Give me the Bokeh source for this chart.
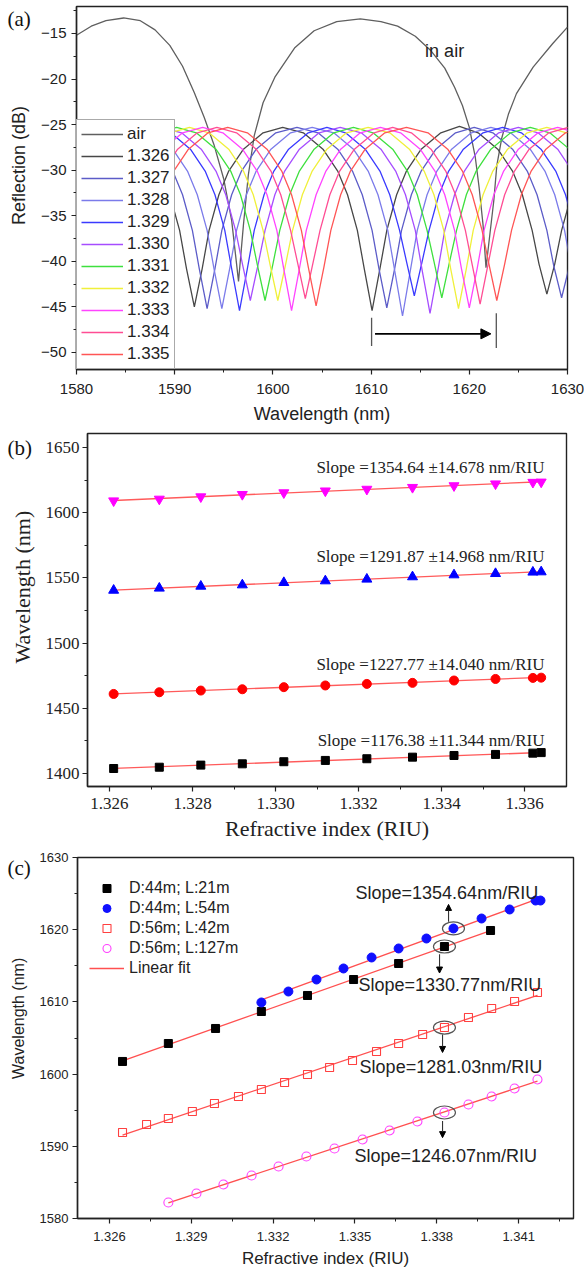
import numpy as np
from math import pi
from bokeh.plotting import figure
from bokeh.layouts import column, row
from bokeh.models import (Range1d, FixedTicker, Legend, LegendItem, Label, Arrow,
                          NormalHead, NumeralTickFormatter)
from bokeh.embed import file_html
from bokeh.resources import INLINE

SANS = "Liberation Sans"
SERIF = "Liberation Serif"

# ---------------- Panel (a): reflection spectra ----------------
a_xticks = [1580, 1590, 1600, 1610, 1620, 1630]
a_xminor = [1585, 1595, 1605, 1615, 1625]
a_yticks = [-50, -45, -40, -35, -30, -25, -20, -15]
a_yminor = [-47.5, -42.5, -37.5, -32.5, -27.5, -22.5, -17.5, -12.5]

wl_air = [1580.0, 1581.5, 1583.0, 1584.8, 1586.5, 1588.0, 1589.5, 1590.8, 1592.0, 1593.0,
          1594.0, 1595.0, 1595.8, 1596.5, 1597.0, 1597.5, 1598.1, 1599.0, 1600.2, 1602.2,
          1604.2, 1606.5, 1608.9, 1611.0, 1612.7, 1614.5, 1616.1, 1617.5, 1618.5, 1619.3,
          1620.0, 1620.6, 1621.0, 1621.4, 1621.7, 1622.1, 1622.5, 1622.8, 1623.3, 1624.0,
          1624.8, 1626.5, 1628.5, 1630.0]
db_air = [-15.2, -14.2, -13.6, -13.3, -13.6, -14.6, -16.3, -18.6, -21.5, -24.2,
          -27.2, -31.0, -35.5, -42.2, -36.0, -30.5, -26.2, -22.6, -19.8, -16.6,
          -14.7, -13.7, -13.4, -13.7, -14.2, -15.3, -16.9, -18.8, -20.9, -22.9,
          -25.3, -28.5, -31.9, -36.0, -40.7, -37.0, -33.3, -29.5, -26.5, -23.8,
          -21.6, -18.7, -16.1, -14.3]

wl_1326 = [1587.0, 1588.5, 1589.5, 1590.5, 1591.2, 1592.0, 1592.8, 1593.5, 1594.5, 1595.5,
           1597.0, 1599.0, 1601.0, 1603.1, 1605.1, 1606.6, 1607.6, 1608.6, 1609.3, 1610.1,
           1610.9, 1611.6, 1612.6, 1613.6, 1615.1, 1617.1, 1619.0, 1620.9, 1622.9, 1624.4,
           1625.4, 1626.4, 1627.1, 1627.9, 1628.7, 1629.4, 1630.4]
db_1326 = [-27.7, -30.1, -32.7, -36.6, -40.8, -45.0, -40.8, -36.6, -32.7, -30.1,
           -27.7, -25.9, -25.3, -25.9, -27.7, -30.1, -32.7, -36.6, -40.8, -45.4,
           -40.8, -36.6, -32.7, -30.1, -27.7, -25.9, -25.2, -25.9, -27.7, -30.1,
           -32.7, -36.6, -40.3, -43.6, -40.3, -36.6, -32.7]

wl_1327 = [1586.3, 1588.3, 1589.8, 1590.8, 1591.8, 1592.5, 1593.3, 1594.1, 1594.8, 1595.8,
           1596.8, 1598.3, 1600.3, 1602.45, 1604.6, 1606.6, 1608.1, 1609.1, 1610.1, 1610.8,
           1611.6, 1612.4, 1613.1, 1614.1, 1615.1, 1616.6, 1618.6, 1620.5, 1622.4, 1624.4,
           1625.9, 1626.9, 1627.9, 1628.6, 1629.4, 1630.2]
db_1327 = [-25.9, -27.7, -30.1, -32.7, -36.6, -40.8, -45.2, -40.8, -36.6, -32.7,
           -30.1, -27.7, -25.9, -25.3, -25.9, -27.7, -30.1, -32.7, -36.6, -40.8,
           -45.1, -40.8, -36.6, -32.7, -30.1, -27.7, -25.9, -25.3, -25.9, -27.7,
           -30.1, -32.7, -36.6, -40.5, -44.0, -40.5]

wl_1328 = [1587.8, 1589.8, 1591.3, 1592.3, 1593.3, 1594.0, 1594.8, 1595.6, 1596.3, 1597.3,
           1598.3, 1599.8, 1601.8, 1604.0, 1606.2, 1608.2, 1609.7, 1610.7, 1611.7, 1612.4,
           1613.2, 1614.0, 1614.7, 1615.7, 1616.7, 1618.2, 1620.2, 1622.2, 1624.2, 1626.2,
           1627.7, 1628.7, 1629.7, 1630.4]
db_1328 = [-25.9, -27.7, -30.1, -32.7, -36.6, -40.8, -45.2, -40.8, -36.6, -32.7,
           -30.1, -27.7, -25.9, -25.3, -25.9, -27.7, -30.1, -32.7, -36.6, -41.0,
           -46.0, -41.0, -36.6, -32.7, -30.1, -27.7, -25.9, -25.3, -25.9, -27.7,
           -30.1, -32.7, -36.6, -40.8]

wl_1329 = [1587.5, 1589.6, 1591.6, 1593.1, 1594.1, 1595.1, 1595.8, 1596.6, 1597.4, 1598.1,
           1599.1, 1600.1, 1601.6, 1603.6, 1605.5, 1607.4, 1609.4, 1610.9, 1611.9, 1612.9,
           1613.6, 1614.4, 1615.2, 1615.9, 1616.9, 1617.9, 1619.4, 1621.4, 1623.4, 1625.3,
           1627.3, 1628.8, 1629.8, 1630.8]
db_1329 = [-25.3, -25.9, -27.7, -30.1, -32.7, -36.6, -40.8, -45.4, -40.8, -36.6,
           -32.7, -30.1, -27.7, -25.9, -25.3, -25.9, -27.7, -30.1, -32.7, -36.6,
           -40.0, -43.8, -40.0, -36.6, -32.7, -30.1, -27.7, -25.9, -25.3, -25.9,
           -27.7, -30.1, -32.7, -36.6]

wl_1330 = [1588.6, 1590.7, 1592.7, 1594.2, 1595.2, 1596.2, 1596.9, 1597.7, 1598.5, 1599.2,
           1600.2, 1601.2, 1602.7, 1604.7, 1606.85, 1609.0, 1611.0, 1612.5, 1613.5, 1614.5,
           1615.2, 1616.0, 1616.8, 1617.5, 1618.5, 1619.5, 1621.0, 1623.0, 1625.0, 1627.0,
           1629.0, 1630.5]
db_1330 = [-25.3, -25.9, -27.7, -30.1, -32.7, -36.6, -40.3, -44.3, -40.3, -36.6,
           -32.7, -30.1, -27.7, -25.9, -25.3, -25.9, -27.7, -30.1, -32.7, -36.6,
           -41.0, -45.7, -41.0, -36.6, -32.7, -30.1, -27.7, -25.9, -25.3, -25.9,
           -27.7, -30.1]

wl_1331 = [1588.2, 1590.2, 1592.2, 1594.2, 1595.7, 1596.7, 1597.7, 1598.4, 1599.2, 1600.0,
           1600.7, 1601.7, 1602.7, 1604.2, 1606.2, 1608.2, 1610.2, 1612.2, 1613.7, 1614.7,
           1615.7, 1616.4, 1617.2, 1618.0, 1618.7, 1619.7, 1620.7, 1622.2, 1624.2, 1626.2,
           1628.2, 1630.2]
db_1331 = [-25.9, -25.3, -25.9, -27.7, -30.1, -32.7, -36.6, -40.3, -44.3, -40.3,
           -36.6, -32.7, -30.1, -27.7, -25.9, -25.3, -25.9, -27.7, -30.1, -32.7,
           -36.6, -40.0, -44.0, -40.0, -36.6, -32.7, -30.1, -27.7, -25.9, -25.3,
           -25.9, -27.7]

wl_1332 = [1587.4, 1589.5, 1591.5, 1593.5, 1595.5, 1597.0, 1598.0, 1599.0, 1599.7, 1600.5,
           1601.3, 1602.0, 1603.0, 1604.0, 1605.5, 1607.5, 1609.7, 1611.9, 1613.9, 1615.4,
           1616.4, 1617.4, 1618.1, 1618.9, 1619.7, 1620.4, 1621.4, 1622.4, 1623.9, 1625.9,
           1627.9, 1629.9]
db_1332 = [-27.7, -25.9, -25.3, -25.9, -27.7, -30.1, -32.7, -36.6, -40.3, -44.3,
           -40.3, -36.6, -32.7, -30.1, -27.7, -25.9, -25.3, -25.9, -27.7, -30.1,
           -32.7, -36.6, -40.8, -45.2, -40.8, -36.6, -32.7, -30.1, -27.7, -25.9,
           -25.3, -25.9]

wl_1333 = [1587.3, 1588.8, 1590.8, 1592.85, 1594.9, 1596.9, 1598.4, 1599.4, 1600.4, 1601.1,
           1601.9, 1602.7, 1603.4, 1604.4, 1605.4, 1606.9, 1608.9, 1610.95, 1613.0, 1615.0,
           1616.5, 1617.5, 1618.5, 1619.2, 1620.0, 1620.8, 1621.5, 1622.5, 1623.5, 1625.0,
           1627.0, 1629.0, 1631.0]
db_1333 = [-30.1, -27.7, -25.9, -25.3, -25.9, -27.7, -30.1, -32.7, -36.6, -40.8,
           -45.4, -40.8, -36.6, -32.7, -30.1, -27.7, -25.9, -25.3, -25.9, -27.7,
           -30.1, -32.7, -36.6, -40.8, -45.1, -40.8, -36.6, -32.7, -30.1, -27.7,
           -25.9, -25.3, -25.9]

wl_1334 = [1587.8, 1588.8, 1590.3, 1592.3, 1594.3, 1596.3, 1598.3, 1599.8, 1600.8, 1601.8,
           1602.5, 1603.3, 1604.1, 1604.8, 1605.8, 1606.8, 1608.3, 1610.3, 1612.2, 1614.1,
           1616.1, 1617.6, 1618.6, 1619.6, 1620.3, 1621.1, 1621.9, 1622.6, 1623.6, 1624.6,
           1626.1, 1628.1, 1630.1]
db_1334 = [-32.7, -30.1, -27.7, -25.9, -25.3, -25.9, -27.7, -30.1, -32.7, -36.6,
           -40.1, -44.1, -40.1, -36.6, -32.7, -30.1, -27.7, -25.9, -25.3, -25.9,
           -27.7, -30.1, -32.7, -36.6, -40.4, -44.7, -40.4, -36.6, -32.7, -30.1,
           -27.7, -25.9, -25.3]

wl_1335 = [1587.9, 1588.9, 1589.9, 1591.4, 1593.4, 1595.4, 1597.4, 1599.4, 1600.9, 1601.9,
           1602.9, 1603.6, 1604.4, 1605.2, 1605.9, 1606.9, 1607.9, 1609.4, 1611.4, 1613.6,
           1615.8, 1617.8, 1619.3, 1620.3, 1621.3, 1622.0, 1622.8, 1623.6, 1624.3, 1625.3,
           1626.3, 1627.8, 1629.8, 1631.8]
db_1335 = [-36.6, -32.7, -30.1, -27.7, -25.9, -25.3, -25.9, -27.7, -30.1, -32.7,
           -36.6, -40.6, -44.9, -40.6, -36.6, -32.7, -30.1, -27.7, -25.9, -25.3,
           -25.9, -27.7, -30.1, -32.7, -36.6, -40.3, -44.3, -40.3, -36.6, -32.7,
           -30.1, -27.7, -25.9, -25.3]

spec_labels = ["air", "1.326", "1.327", "1.328", "1.329", "1.330",
               "1.331", "1.332", "1.333", "1.334", "1.335"]
spec_colors = ["#5f5f5f", "#474747", "#5c5cc8", "#7b7bea", "#3a3aff", "#a64dff",
               "#3ee03e", "#f0f03a", "#ff44ff", "#ff4d94", "#ff5555"]

# ---------------- Panel (b) ----------------
b_xticks = [1.326, 1.328, 1.330, 1.332, 1.334, 1.336]
b_xminor = [1.327, 1.329, 1.331, 1.333, 1.335]
b_yticks = [1400, 1450, 1500, 1550, 1600, 1650]
b_yminor = [1425, 1475, 1525, 1575, 1625]
ri_b = [1.3261, 1.3272, 1.3282, 1.3292, 1.3302, 1.3312, 1.3322, 1.3333, 1.3343, 1.3353, 1.3362, 1.3364]
wl_b_black = [1403.8, 1404.8, 1406.4, 1407.4, 1409.0, 1410.0, 1411.3, 1412.5, 1413.8, 1414.6, 1415.6, 1416.0]
wl_b_red = [1461.0, 1462.3, 1463.6, 1464.6, 1466.2, 1467.5, 1468.7, 1469.5, 1471.3, 1472.5, 1473.3, 1473.5]
wl_b_blue = [1540.5, 1542.1, 1543.6, 1544.6, 1546.4, 1547.7, 1549.0, 1550.8, 1552.3, 1553.3, 1554.4, 1554.6]
wl_b_magenta = [1609.2, 1610.5, 1612.3, 1614.1, 1615.4, 1616.8, 1618.1, 1619.5, 1620.8, 1622.2, 1623.4, 1623.6]
b_slopes = ["Slope =1176.38 \u00b111.344 nm/RIU", "Slope =1227.77 \u00b114.040 nm/RIU",
            "Slope =1291.87 \u00b114.968 nm/RIU", "Slope =1354.64 \u00b114.678 nm/RIU"]

# ---------------- Panel (c) ----------------
c_xticks = [1.326, 1.329, 1.332, 1.335, 1.338, 1.341]
c_xminor = [1.3275, 1.3305, 1.3335, 1.3365, 1.3395, 1.3425]
c_yticks = [1580, 1590, 1600, 1610, 1620, 1630]
c_yminor = [1585, 1595, 1605, 1615, 1625]
ri_c_black = [1.32648, 1.32816, 1.32989, 1.33157, 1.33326, 1.33495, 1.33660, 1.33828, 1.33997]
wl_c_black = [1601.75, 1604.24, 1606.32, 1608.67, 1610.89, 1613.10, 1615.32, 1617.67, 1619.89]
ri_c_blue = [1.33157, 1.33256, 1.33359, 1.33458, 1.33561, 1.33660, 1.33762, 1.33861,
             1.33964, 1.34067, 1.34162, 1.34180]
wl_c_blue = [1609.92, 1611.44, 1613.10, 1614.63, 1616.15, 1617.40, 1618.78, 1620.17,
             1621.55, 1622.80, 1624.04, 1624.04]
ri_c_red = [1.32648, 1.32736, 1.32816, 1.32904, 1.32985, 1.33073, 1.33157, 1.33242, 1.33326,
            1.33407, 1.33491, 1.33579, 1.33660, 1.33748, 1.33828, 1.33916, 1.34001, 1.34085, 1.34169]
wl_c_red = [1591.91, 1593.02, 1593.85, 1594.81, 1595.93, 1596.90, 1597.87, 1598.84, 1599.94,
            1600.91, 1601.88, 1603.13, 1604.24, 1605.48, 1606.45, 1607.84, 1609.09, 1610.06, 1611.30]
ri_c_mag = [1.32816, 1.32919, 1.33018, 1.33121, 1.33220, 1.33322, 1.33425, 1.33528,
            1.33627, 1.33729, 1.33828, 1.33916, 1.34001, 1.34085, 1.34169]
wl_c_mag = [1582.22, 1583.46, 1584.71, 1585.96, 1587.20, 1588.59, 1589.70, 1590.94,
            1592.19, 1593.43, 1594.68, 1595.79, 1596.90, 1598.01, 1599.25]
c_legend = ["D:44m; L:21m", "D:44m; L:54m", "D:56m; L:42m", "D:56m; L:127m", "Linear fit"]
c_slopes = ["Slope=1354.64nm/RIU", "Slope=1330.77nm/RIU", "Slope=1281.03nm/RIU", "Slope=1246.07nm/RIU"]


def base_fig(width, height, xr, yr, ml, mr, mt, mb):
    p = figure(width=width, height=height, x_range=Range1d(*xr), y_range=Range1d(*yr),
               output_backend="svg", toolbar_location=None,
               min_border_left=ml, min_border_right=mr, min_border_top=mt, min_border_bottom=mb)
    p.xgrid.visible = False
    p.ygrid.visible = False
    p.outline_line_color = "#222222"
    p.outline_line_width = 1.4
    return p


def side_fig(width, height, letter, letter_y, ylabel, ylab_x, ylab_y, ylab_font, ylab_size):
    # narrow strip left of each panel holding the panel letter and the y-axis title
    q = figure(width=width, height=height, x_range=Range1d(0, width), y_range=Range1d(0, height),
               x_axis_type=None, y_axis_type=None, output_backend="svg", toolbar_location=None,
               min_border_left=0, min_border_right=0, min_border_top=0, min_border_bottom=0)
    q.outline_line_color = None
    q.add_layout(Label(x=7, y=letter_y, text=letter, text_font=SERIF, text_font_size="21px",
                       text_baseline="middle", text_color="#111111"))
    q.add_layout(Label(x=ylab_x, y=ylab_y, text=ylabel, angle=pi / 2, text_align="center",
                       text_baseline="middle", text_font=ylab_font, text_font_size=ylab_size,
                       text_color="#222222"))
    return q


def style_axes(p, font, tick_size, label_size, xt, xm, yt, ym, x_standoff, y_standoff, x_lab_standoff):
    for ax in (p.xaxis[0], p.yaxis[0]):
        ax.axis_line_color = "#222222"
        ax.axis_line_width = 1.4
        ax.major_tick_line_color = "#222222"
        ax.minor_tick_line_color = "#222222"
        ax.major_tick_line_width = 1.2
        ax.minor_tick_line_width = 1.0
        ax.major_tick_out = 5
        ax.major_tick_in = 0
        ax.minor_tick_out = 3
        ax.minor_tick_in = 0
        ax.major_label_text_font = font
        ax.major_label_text_font_size = tick_size
        ax.major_label_text_color = "#222222"
        ax.axis_label_text_font = font
        ax.axis_label_text_font_size = label_size
        ax.axis_label_text_font_style = "normal"
        ax.axis_label_text_color = "#222222"
    p.xaxis[0].ticker = FixedTicker(ticks=xt, minor_ticks=xm)
    p.yaxis[0].ticker = FixedTicker(ticks=yt, minor_ticks=ym)
    p.xaxis[0].major_label_standoff = x_standoff
    p.yaxis[0].major_label_standoff = y_standoff
    p.xaxis[0].axis_label_standoff = x_lab_standoff


# ================= Panel (a) =================
HA = 428
s1 = side_fig(36, HA, "(a)", HA - 15, "Reflection (dB)", 18, HA - 187.5, SANS, "18px")
p1 = base_fig(548, HA, (1580, 1630), (-51.87, -12.04), 40, 17, 6, 59)
style_axes(p1, SANS, "15px", "18px", a_xticks, a_xminor, a_yticks, a_yminor, 9, 5, 7)
p1.xaxis.axis_label = "Wavelength (nm)"

spec_wl = [wl_air, wl_1326, wl_1327, wl_1328, wl_1329, wl_1330, wl_1331, wl_1332, wl_1333, wl_1334, wl_1335]
spec_db = [db_air, db_1326, db_1327, db_1328, db_1329, db_1330, db_1331, db_1332, db_1333, db_1334, db_1335]
items_a = []
for lab, col, wl, db in zip(spec_labels, spec_colors, spec_wl, spec_db):
    r = p1.line(wl, db, line_color=col, line_width=1.3)
    items_a.append(LegendItem(label=lab, renderers=[r]))

leg_a = Legend(items=items_a, location=(0, 0), padding=4, spacing=2, margin=0,
               label_height=20, glyph_height=20, glyph_width=42, label_standoff=4,
               label_text_font=SANS, label_text_font_size="17px", label_text_color="#222222",
               border_line_color="#555555", border_line_width=1.2,
               background_fill_color="white", background_fill_alpha=1.0)
p1.add_layout(leg_a)

p1.segment(x0=[1610.05, 1622.75], y0=[-46.2, -45.7], x1=[1610.05, 1622.75], y1=[-49.3, -49.5],
           line_color="#555555", line_width=1.3)
p1.add_layout(Arrow(end=NormalHead(size=10, fill_color="black", line_color="black"),
                    x_start=1610.4, y_start=-47.96, x_end=1622.2, y_end=-47.96,
                    line_color="black", line_width=1.6))
p1.add_layout(Label(x=1615.5, y=-16.9, text="in air", text_font=SANS, text_font_size="18px",
                    text_baseline="middle", text_color="#222222"))

# ================= Panel (b) =================
HB = 417
s2 = side_fig(38, HB, "(b)", HB - 17, "Wavelength (nm)", 22, HB - 181.5, SERIF, "22px")
p2 = base_fig(546, HB, (1.32547, 1.33701), (1390.0, 1660.8), 49, 18, 5, 59)
style_axes(p2, SERIF, "17px", "22px", b_xticks, b_xminor, b_yticks, b_yminor, 6, 3, 4)
p2.xaxis.axis_label = "Refractive index (RIU)"
p2.xaxis[0].formatter = NumeralTickFormatter(format="0.000")

b_series = [(wl_b_black, "square", "black", 8), (wl_b_red, "circle", "#ff0000", 9),
            (wl_b_blue, "triangle", "#0000ff", 10), (wl_b_magenta, "inverted_triangle", "#ff00ff", 10)]
for wl, mk, col, sz in b_series:
    k = np.polyfit(ri_b, wl, 1)
    xs = [ri_b[0], ri_b[-1]]
    p2.line(xs, list(np.polyval(k, xs)), line_color="#ff5a5a", line_width=1.3)
for wl, mk, col, sz in b_series:
    p2.scatter(ri_b, wl, marker=mk, size=sz, fill_color=col, line_color=col)

b_text_y = [1425.4, 1483.8, 1566.2, 1634.6]
for txt, ty in zip(b_slopes, b_text_y):
    p2.add_layout(Label(x=1.33648, y=ty, text=txt, text_align="right", text_baseline="middle",
                        text_font=SERIF, text_font_size="17px", text_color="#222222"))

# ================= Panel (c) =================
HC = 432
s3 = side_fig(34, HC, "(c)", HC - 13, "Wavelength (nm)", 18, HC - 192.5, SANS, "16px")
p3 = base_fig(550, HC, (1.32483, 1.34301), (1580, 1630), 43, 11, 12, 59)
style_axes(p3, SANS, "13px", "17px", c_xticks, c_xminor, c_yticks, c_yminor, 8, 4, 5)
p3.xaxis.axis_label = "Refractive index (RIU)"
p3.xaxis[0].formatter = NumeralTickFormatter(format="0.000")

fit_r = None
for xs_d, ys_d in [(ri_c_black, wl_c_black), (ri_c_blue, wl_c_blue), (ri_c_red, wl_c_red), (ri_c_mag, wl_c_mag)]:
    k = np.polyfit(xs_d, ys_d, 1)
    xs = [xs_d[0], xs_d[-1]]
    fit_r = p3.line(xs, list(np.polyval(k, xs)), line_color="#ff5050", line_width=1.3)

r_black = p3.scatter(ri_c_black, wl_c_black, marker="square", size=8, fill_color="black", line_color="black")
r_blue = p3.scatter(ri_c_blue, wl_c_blue, marker="circle", size=9, fill_color="#1010ff", line_color="#1010ff")
r_red = p3.scatter(ri_c_red, wl_c_red, marker="square", size=8, fill_color=None, line_color="#ff4040", line_width=1.1)
r_mag = p3.scatter(ri_c_mag, wl_c_mag, marker="circle", size=9, fill_color=None, line_color="#ff40ff", line_width=1.1)

leg_c = Legend(items=[LegendItem(label=c_legend[0], renderers=[r_black]),
                      LegendItem(label=c_legend[1], renderers=[r_blue]),
                      LegendItem(label=c_legend[2], renderers=[r_red]),
                      LegendItem(label=c_legend[3], renderers=[r_mag]),
                      LegendItem(label=c_legend[4], renderers=[fit_r])],
               location=(12, 240), padding=4, spacing=0, margin=0,
               label_height=20, glyph_height=20, glyph_width=35, label_standoff=5,
               label_text_font=SANS, label_text_font_size="16px", label_text_color="#222222",
               border_line_color=None, background_fill_alpha=0)
p3.add_layout(leg_c)

ell_x = [ri_c_blue[7], ri_c_black[7], ri_c_red[14], ri_c_mag[10]]
ell_y = [wl_c_blue[7], wl_c_black[7], wl_c_red[14], wl_c_mag[10]]
p3.ellipse(x=ell_x, y=ell_y, width=22, height=13, width_units="screen", height_units="screen",
           fill_alpha=0, line_color="#555555", line_width=1.2)

arrows_c = [(1.33843, 1621.1, 1623.5), (1.33810, 1616.6, 1614.0),
            (1.33821, 1605.5, 1603.0), (1.33821, 1593.5, 1591.2)]
for ax_, y0, y1 in arrows_c:
    p3.add_layout(Arrow(end=NormalHead(size=6, fill_color="black", line_color="black"),
                        x_start=ax_, y_start=y0, x_end=ax_, y_end=y1,
                        line_color="#333333", line_width=1.1))

c_text_pos = [(1.33502, 1625.15), (1.33513, 1612.3), (1.33517, 1601.05), (1.33498, 1588.7)]
for txt, (tx, ty) in zip(c_slopes, c_text_pos):
    p3.add_layout(Label(x=tx, y=ty, text=txt, text_baseline="middle",
                        text_font=SANS, text_font_size="18px", text_color="#222222"))

layout = column(row(s1, p1), row(s2, p2), row(s3, p3))
open("out.html", "w").write(file_html(layout, INLINE))
